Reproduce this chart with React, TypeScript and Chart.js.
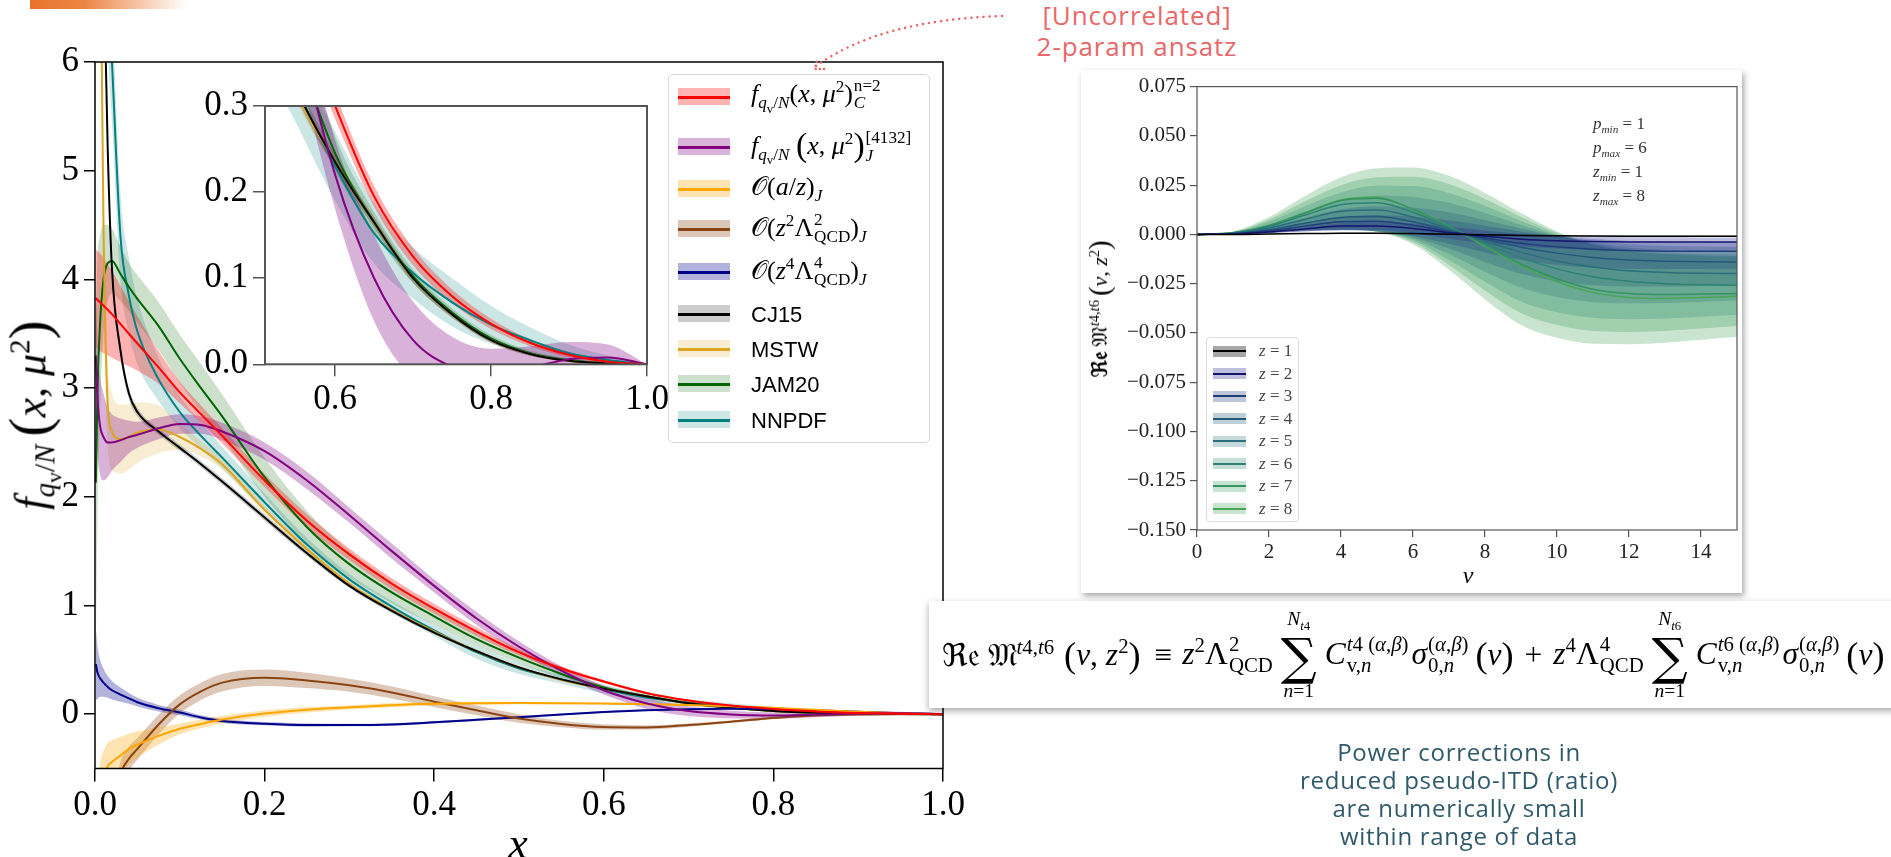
import React, { useEffect, useRef } from 'react';
import { Chart, registerables } from 'chart.js';
Chart.register(...registerables);

// ---------------- Main PDF panel data (x grid shared) ----------------
const xGrid = [0.001, 0.003, 0.006, 0.01, 0.015, 0.02, 0.03, 0.04, 0.05, 0.075, 0.1, 0.125, 0.15, 0.2, 0.25, 0.3, 0.35, 0.4, 0.45, 0.5, 0.55, 0.6, 0.65, 0.7, 0.75, 0.8, 0.85, 0.9, 0.95, 1.0];

const fC = [3.83, 3.81, 3.79, 3.76, 3.72, 3.68, 3.59, 3.5, 3.41, 3.19, 2.96, 2.76, 2.56, 2.15, 1.78, 1.47, 1.2, 0.97, 0.76, 0.57, 0.42, 0.3, 0.195, 0.125, 0.079, 0.047, 0.025, 0.011, 0.003, 0];
const fCErr = [0.45, 0.45, 0.45, 0.44, 0.42, 0.4, 0.35, 0.3, 0.25, 0.15, 0.1, 0.08, 0.07, 0.06, 0.06, 0.055, 0.05, 0.045, 0.04, 0.03, 0.02, 0.015, 0.012, 0.01, 0.008, 0.006, 0.004, 0.003, 0.001, 0];

const fJ = [3.3, 2.9, 2.65, 2.55, 2.5, 2.5, 2.52, 2.55, 2.57, 2.63, 2.67, 2.66, 2.6, 2.42, 2.15, 1.83, 1.5, 1.18, 0.88, 0.62, 0.4, 0.22, 0.1, 0.028, -0.003, -0.012, -0.004, 0.006, 0.008, 0];
const fJErr = [0.6, 0.5, 0.45, 0.4, 0.32, 0.26, 0.2, 0.15, 0.12, 0.1, 0.09, 0.08, 0.08, 0.08, 0.08, 0.07, 0.07, 0.06, 0.06, 0.05, 0.04, 0.04, 0.05, 0.045, 0.035, 0.03, 0.025, 0.02, 0.015, 0];

const aOverZ = [-1.5, -1.1, -0.8, -0.62, -0.48, -0.44, -0.38, -0.32, -0.28, -0.2, -0.135, -0.09, -0.05, 0.005, 0.04, 0.063, 0.083, 0.095, 0.1, 0.102, 0.1, 0.097, 0.092, 0.085, 0.073, 0.058, 0.04, 0.022, 0.008, 0];
const aOverZErr = [0.6, 0.45, 0.35, 0.28, 0.22, 0.2, 0.17, 0.14, 0.12, 0.08, 0.05, 0.04, 0.035, 0.03, 0.025, 0.02, 0.02, 0.015, 0.015, 0.012, 0.01, 0.01, 0.008, 0.007, 0.006, 0.005, 0.004, 0.003, 0.002, 0];

const z2Lam2 = [-4, -3.4, -2.7, -2.0, -1.4, -1.0, -0.56, -0.41, -0.32, -0.095, 0.09, 0.21, 0.29, 0.335, 0.31, 0.265, 0.2, 0.115, 0.035, -0.04, -0.09, -0.118, -0.122, -0.1, -0.07, -0.035, -0.013, -0.004, -0.001, 0];
const z2Lam2Err = [0.3, 0.25, 0.2, 0.18, 0.15, 0.13, 0.12, 0.11, 0.1, 0.09, 0.085, 0.08, 0.08, 0.075, 0.07, 0.06, 0.055, 0.05, 0.045, 0.04, 0.03, 0.025, 0.02, 0.015, 0.012, 0.01, 0.006, 0.003, 0.001, 0];

const z4Lam4 = [0.46, 0.38, 0.33, 0.29, 0.25, 0.22, 0.18, 0.145, 0.11, 0.055, 0.015, -0.03, -0.062, -0.088, -0.1, -0.1, -0.095, -0.075, -0.052, -0.028, -0.003, 0.02, 0.036, 0.046, 0.049, 0.045, 0.035, 0.022, 0.009, 0];
const z4Lam4Err = [0.33, 0.24, 0.17, 0.13, 0.1, 0.085, 0.065, 0.05, 0.04, 0.03, 0.025, 0.02, 0.02, 0.015, 0.015, 0.012, 0.012, 0.01, 0.01, 0.01, 0.008, 0.008, 0.008, 0.007, 0.006, 0.005, 0.004, 0.003, 0.002, 0];

const cj15 = [15, 12, 9, 7.0, 5.2, 4.1, 3.35, 2.95, 2.78, 2.6, 2.45, 2.3, 2.14, 1.81, 1.48, 1.18, 0.95, 0.75, 0.58, 0.43, 0.32, 0.235, 0.165, 0.1, 0.058, 0.028, 0.012, 0.004, 0.001, 0];
const cj15Err = [0.5, 0.3, 0.2, 0.15, 0.1, 0.08, 0.06, 0.05, 0.04, 0.03, 0.03, 0.03, 0.03, 0.03, 0.025, 0.02, 0.02, 0.015, 0.015, 0.01, 0.01, 0.008, 0.006, 0.005, 0.004, 0.003, 0.002, 0.001, 0, 0];

const mstw = [20, 12, 7.5, 4.5, 2.85, 2.6, 2.53, 2.55, 2.59, 2.62, 2.55, 2.44, 2.3, 1.88, 1.52, 1.2, 0.96, 0.76, 0.58, 0.43, 0.315, 0.235, 0.165, 0.1, 0.058, 0.028, 0.012, 0.004, 0.001, 0];
const mstwErr = [1.0, 0.8, 0.6, 0.5, 0.4, 0.35, 0.32, 0.3, 0.28, 0.22, 0.12, 0.07, 0.05, 0.04, 0.03, 0.025, 0.02, 0.02, 0.015, 0.012, 0.01, 0.008, 0.006, 0.005, 0.004, 0.003, 0.002, 0.001, 0, 0];

const jam20 = [2.13, 3.0, 3.6, 4.0, 4.15, 4.17, 4.05, 3.93, 3.82, 3.57, 3.27, 3.0, 2.74, 2.18, 1.72, 1.38, 1.12, 0.9, 0.69, 0.52, 0.37, 0.245, 0.165, 0.102, 0.06, 0.03, 0.013, 0.005, 0.001, 0];
const jam20Err = [1.5, 1.2, 0.8, 0.5, 0.35, 0.3, 0.25, 0.22, 0.22, 0.22, 0.22, 0.22, 0.2, 0.18, 0.15, 0.12, 0.1, 0.08, 0.06, 0.05, 0.04, 0.02, 0.012, 0.008, 0.005, 0.004, 0.003, 0.002, 0.001, 0];

const nnpdf = [18, 13, 10, 8.0, 6.8, 6.0, 4.4, 3.85, 3.52, 3.08, 2.78, 2.56, 2.36, 1.95, 1.56, 1.24, 0.99, 0.77, 0.57, 0.42, 0.32, 0.23, 0.152, 0.106, 0.072, 0.046, 0.028, 0.013, 0.005, 0];
const nnpdfErr = [3, 2, 1.5, 1.0, 0.7, 0.55, 0.4, 0.35, 0.3, 0.2, 0.15, 0.12, 0.1, 0.08, 0.06, 0.05, 0.05, 0.05, 0.06, 0.05, 0.04, 0.04, 0.035, 0.03, 0.028, 0.022, 0.015, 0.01, 0.005, 0];

const MAIN_X_TICKS = [0, 0.2, 0.4, 0.6, 0.8, 1.0];
const MAIN_Y_TICKS = [0, 1, 2, 3, 4, 5, 6];
const INSET_X_TICKS = [0.6, 0.8, 1.0];
const INSET_Y_TICKS = [0, 0.1, 0.2, 0.3];
const INSET_SERIES = [0, 1, 5, 6, 7, 8];

// ---------------- Power-correction panel data ----------------
const nuGrid = [0, 1, 2, 3, 4, 5, 6, 7, 8, 9, 10, 11, 12, 13, 14, 15];
const zLabels = ['1', '2', '3', '4', '5', '6', '7', '8'];
const mLine = [
  [0, 0, 0.0002, 0.0004, 0.0006, 0.0006, 0.0004, 0.0001, -0.0002, -0.0005, -0.0007, -0.0008, -0.0009, -0.001, -0.001, -0.001],
  [0, 0.0002, 0.0012, 0.0028, 0.0042, 0.0043, 0.003, 0.0009, -0.001, -0.0024, -0.0032, -0.0036, -0.0038, -0.0039, -0.0039, -0.0039],
  [0, 0.0003, 0.0018, 0.0042, 0.0064, 0.0067, 0.0047, 0.0014, -0.0018, -0.0045, -0.0063, -0.0075, -0.0082, -0.0085, -0.0086, -0.0086],
  [0, 0.0004, 0.0024, 0.0057, 0.0086, 0.0091, 0.0064, 0.002, -0.0025, -0.0065, -0.0095, -0.0117, -0.013, -0.0136, -0.0139, -0.014],
  [0, 0.0006, 0.0032, 0.0076, 0.0117, 0.0124, 0.0088, 0.0028, -0.0035, -0.009, -0.0135, -0.0165, -0.0185, -0.0193, -0.0197, -0.0199],
  [0, 0.0007, 0.004, 0.0098, 0.015, 0.016, 0.0112, 0.0035, -0.0045, -0.0118, -0.0175, -0.0215, -0.0238, -0.025, -0.0255, -0.0258],
  [0, 0.0008, 0.0044, 0.0108, 0.0172, 0.0183, 0.0128, 0.004, -0.0055, -0.015, -0.0225, -0.0278, -0.03, -0.0305, -0.0303, -0.03],
  [0, 0.0008, 0.0045, 0.011, 0.0175, 0.0188, 0.0125, 0.004, -0.006, -0.016, -0.024, -0.0295, -0.032, -0.0325, -0.032, -0.0314],
];
const mUp = [
  [0, 0.0001, 0.0003, 0.0006, 0.0009, 0.0009, 0.0007, 0.0004, 0.0001, -0.0002, -0.0004, -0.0005, -0.0006, -0.0006, -0.0006, -0.0006],
  [0, 0.0003, 0.0017, 0.0037, 0.0057, 0.0062, 0.0055, 0.004, 0.002, 0.0003, -0.0008, -0.0012, -0.0014, -0.0015, -0.0016, -0.0016],
  [0, 0.0005, 0.0027, 0.0058, 0.0088, 0.0098, 0.009, 0.0072, 0.0044, 0.0015, -0.0008, -0.0023, -0.0032, -0.0037, -0.0039, -0.004],
  [0, 0.0007, 0.0039, 0.0085, 0.0127, 0.0143, 0.0136, 0.0112, 0.0073, 0.003, -0.0008, -0.0033, -0.005, -0.0058, -0.0062, -0.0064],
  [0, 0.0009, 0.0052, 0.0115, 0.0172, 0.0196, 0.019, 0.016, 0.0108, 0.0048, -0.0005, -0.0042, -0.0066, -0.0078, -0.0084, -0.0087],
  [0, 0.0011, 0.0065, 0.0143, 0.0213, 0.0247, 0.0245, 0.021, 0.0145, 0.0068, 0, -0.0048, -0.0078, -0.0093, -0.01, -0.0103],
  [0, 0.0013, 0.0076, 0.0168, 0.025, 0.029, 0.0293, 0.0256, 0.018, 0.009, 0.0008, -0.005, -0.0085, -0.01, -0.0107, -0.011],
  [0, 0.0015, 0.0088, 0.0195, 0.029, 0.0336, 0.034, 0.0297, 0.021, 0.0108, 0.0015, -0.005, -0.0085, -0.01, -0.0108, -0.0112],
];
const mLo = [
  [0, 0, 0.0001, 0.0002, 0.0003, 0.0003, 0.0001, -0.0002, -0.0005, -0.0008, -0.001, -0.0011, -0.0012, -0.0013, -0.0013, -0.0013],
  [0, 0.0001, 0.0006, 0.0015, 0.0022, 0.0022, 0.0005, -0.0022, -0.0045, -0.0062, -0.0072, -0.0078, -0.0081, -0.0082, -0.0083, -0.0083],
  [0, 0.0001, 0.0007, 0.0016, 0.002, 0.0016, -0.0008, -0.0048, -0.0092, -0.013, -0.0155, -0.0168, -0.0174, -0.0175, -0.0175, -0.0174],
  [0, 0.0001, 0.0008, 0.0018, 0.0022, 0.0016, -0.0015, -0.0072, -0.014, -0.02, -0.0238, -0.0258, -0.0265, -0.0265, -0.0262, -0.0258],
  [0, 0.0002, 0.0009, 0.002, 0.0024, 0.0016, -0.0022, -0.01, -0.019, -0.027, -0.0318, -0.0343, -0.035, -0.0348, -0.0342, -0.0335],
  [0, 0.0002, 0.001, 0.0022, 0.0025, 0.0015, -0.003, -0.013, -0.024, -0.034, -0.0395, -0.0423, -0.043, -0.0427, -0.0418, -0.0408],
  [0, 0.0002, 0.001, 0.0022, 0.0025, 0.0015, -0.004, -0.0155, -0.0285, -0.04, -0.046, -0.049, -0.0495, -0.049, -0.0478, -0.0465],
  [0, 0.0002, 0.001, 0.002, 0.0022, 0.0012, -0.005, -0.018, -0.033, -0.046, -0.0525, -0.0555, -0.0557, -0.055, -0.0535, -0.052],
];
const NU_TICKS = [0, 2, 4, 6, 8, 10, 12, 14];
const M_TICKS = [-0.15, -0.125, -0.1, -0.075, -0.05, -0.025, 0, 0.025, 0.05, 0.075];

// ---------------- styles ----------------
const SERIF = "'Liberation Serif', 'DejaVu Serif', serif";
const MATH = "'Liberation Serif', 'DejaVu Serif', 'DejaVu Sans', 'Noto Sans', serif";
const SANS = "'Liberation Sans', 'DejaVu Sans', sans-serif";
const SLIDE = "'Open Sans', 'Lato', sans-serif";

const pdfSeries = [
  { y: fC, err: fCErr, color: '#ff0000', band: 'rgba(255,0,0,0.3)' },
  { y: fJ, err: fJErr, color: '#800080', band: 'rgba(128,0,128,0.3)' },
  { y: aOverZ, err: aOverZErr, color: '#ffa500', band: 'rgba(255,165,0,0.3)' },
  { y: z2Lam2, err: z2Lam2Err, color: '#8b4513', band: 'rgba(139,69,19,0.3)' },
  { y: z4Lam4, err: z4Lam4Err, color: '#00008b', band: 'rgba(0,0,139,0.3)' },
  { y: cj15, err: cj15Err, color: '#000000', band: 'rgba(0,0,0,0.2)' },
  { y: mstw, err: mstwErr, color: '#daa520', band: 'rgba(218,165,32,0.2)' },
  { y: jam20, err: jam20Err, color: '#006400', band: 'rgba(0,100,0,0.2)' },
  { y: nnpdf, err: nnpdfErr, color: '#008080', band: 'rgba(0,128,128,0.2)' },
];

const zColors = ['#000000', '#15156e', '#1f3f78', '#24587a', '#2c6f7c', '#2d8274', '#349460', '#4aa657'];
const zBands = ['rgba(0,0,0,0.35)', 'rgba(40,40,150,0.3)', 'rgba(40,70,130,0.3)', 'rgba(40,95,125,0.3)', 'rgba(45,120,125,0.28)', 'rgba(45,140,115,0.28)', 'rgba(55,155,95,0.28)', 'rgba(80,170,95,0.3)'];

function pts(xs: number[], ys: number[]) {
  return xs.map((x, i) => ({ x, y: ys[i] }));
}

function buildDatasets(xs: number[], series: { line: number[]; lo: number[]; hi: number[]; color: string; band: string }[], lw: number) {
  const bands: any[] = [];
  const lines: any[] = [];
  series.forEach((s) => {
    bands.push({ data: pts(xs, s.hi), borderWidth: 0, borderColor: 'rgba(0,0,0,0)', pointRadius: 0, fill: false, order: 2, cubicInterpolationMode: 'monotone' });
    bands.push({ data: pts(xs, s.lo), borderWidth: 0, borderColor: 'rgba(0,0,0,0)', backgroundColor: s.band, pointRadius: 0, fill: '-1', order: 2, cubicInterpolationMode: 'monotone' });
    lines.push({ data: pts(xs, s.line), borderColor: s.color, borderWidth: lw, pointRadius: 0, fill: false, order: 1, cubicInterpolationMode: 'monotone' });
  });
  return [...bands, ...lines];
}

function pdfDatasets(lw: number, which?: number[]) {
  const chosen = which ? which.map((i) => pdfSeries[i]) : pdfSeries;
  return buildDatasets(
    xGrid,
    chosen.map((s) => ({ line: s.y, lo: s.y.map((v, i) => v - s.err[i]), hi: s.y.map((v, i) => v + s.err[i]), color: s.color, band: s.band })),
    lw
  );
}

function framePlugin(color: string, width: number, bg?: string) {
  return {
    id: 'frame',
    beforeDraw(chart: any) {
      if (!bg) return;
      const { ctx, chartArea: a } = chart;
      ctx.save();
      ctx.fillStyle = bg;
      ctx.fillRect(a.left, a.top, a.right - a.left, a.bottom - a.top);
      ctx.restore();
    },
    afterDraw(chart: any) {
      const { ctx, chartArea: a } = chart;
      ctx.save();
      ctx.strokeStyle = color;
      ctx.lineWidth = width;
      ctx.strokeRect(a.left, a.top, a.right - a.left, a.bottom - a.top);
      ctx.restore();
    },
  };
}

function axis(o: any) {
  return {
    type: 'linear',
    min: o.min,
    max: o.max,
    afterBuildTicks: (s: any) => { s.ticks = o.ticks.map((v: number) => ({ value: v })); },
    afterFit: (s: any) => { if (o.width !== undefined) s.width = o.width; if (o.height !== undefined) s.height = o.height; },
    border: { display: false },
    grid: { display: true, drawOnChartArea: false, drawTicks: true, tickLength: o.tickLen, color: o.tickColor, lineWidth: o.tickWidth ?? 1.5 },
    ticks: { autoSkip: false, maxRotation: 0, padding: o.pad, color: o.labelColor ?? '#000', font: { family: SERIF, size: o.font }, callback: o.fmt },
  };
}

function ChartCanvas({ width, height, style, config }: any) {
  const ref = useRef<HTMLCanvasElement>(null);
  useEffect(() => {
    const chart = new Chart(ref.current as HTMLCanvasElement, config());
    return () => chart.destroy();
  }, []);
  return <canvas ref={ref} width={width} height={height} style={{ position: 'absolute', ...style }} />;
}

const baseOpts = {
  responsive: false,
  animation: false,
  devicePixelRatio: 1,
  events: [],
  plugins: { legend: { display: false }, tooltip: { enabled: false } },
};

function mainConfig() {
  return {
    type: 'line',
    data: { datasets: pdfDatasets(2) },
    options: {
      ...baseOpts,
      layout: { padding: { top: 62, right: 47, left: 0, bottom: 0 } },
      scales: {
        x: axis({ min: 0, max: 1, ticks: MAIN_X_TICKS, height: 88.5, tickLen: 13, tickColor: '#000', pad: 3, font: 35, fmt: (v: any) => Number(v).toFixed(1) }),
        y: axis({ min: -0.5, max: 6, ticks: MAIN_Y_TICKS, width: 95, tickLen: 11, tickColor: '#000', pad: 5, font: 35, fmt: (v: any) => String(v) }),
      },
    },
    plugins: [framePlugin('#000', 1.5)],
  };
}

function insetConfig() {
  return {
    type: 'line',
    data: { datasets: pdfDatasets(2, INSET_SERIES) },
    options: {
      ...baseOpts,
      layout: { padding: { top: 9, right: 38, left: 0, bottom: 0 } },
      scales: {
        x: axis({ min: 0.51, max: 1.0, ticks: INSET_X_TICKS, height: 55.7, tickLen: 12, tickColor: '#555', pad: 3, font: 35, fmt: (v: any) => Number(v).toFixed(1) }),
        y: axis({ min: 0, max: 0.3, ticks: INSET_Y_TICKS, width: 80, tickLen: 12, tickColor: '#555', pad: 5, font: 35, fmt: (v: any) => Number(v).toFixed(1) }),
      },
    },
    plugins: [framePlugin('#555', 2, '#fff')],
  };
}

function rightConfig() {
  const series = mLine.map((line, i) => ({ line, lo: mLo[i], hi: mUp[i], color: zColors[i], band: zBands[i] }));
  return {
    type: 'line',
    data: { datasets: buildDatasets(nuGrid, series, 1.5) },
    options: {
      ...baseOpts,
      layout: { padding: { top: 14.3, right: 5, left: 0, bottom: 0 } },
      scales: {
        x: axis({ min: 0, max: 15, ticks: NU_TICKS, height: 63, tickLen: 7, tickColor: '#555', tickWidth: 1.2, pad: 3, font: 21, labelColor: '#222', fmt: (v: any) => String(v) }),
        y: axis({ min: -0.15, max: 0.075, ticks: M_TICKS, width: 116, tickLen: 7, tickColor: '#555', tickWidth: 1.2, pad: 4, font: 21, labelColor: '#222', fmt: (v: any) => (Number(v) < 0 ? '\u2212' : '') + Math.abs(Number(v)).toFixed(3) }),
      },
    },
    plugins: [framePlugin('#555', 1.2)],
  };
}

// ---------------- math helpers ----------------
const sup = { fontSize: '0.66em' };
const sub = { fontSize: '0.66em' };
function SupSub({ top, bot }: any) {
  return (
    <span style={{ display: 'inline-flex', flexDirection: 'column', verticalAlign: '0.62em', fontSize: '0.66em', lineHeight: 1.0, marginLeft: '0.05em' }}>
      <span>{top}</span>
      <span>{bot}</span>
    </span>
  );
}
function Big({ children, s = '1.3em' }: any) {
  return <span style={{ fontSize: s, verticalAlign: '-0.06em' }}>{children}</span>;
}
function BigSum({ top, bot }: any) {
  return (
    <span style={{ display: 'inline-flex', flexDirection: 'column', alignItems: 'center', lineHeight: 1, margin: '0 8px' }}>
      <span style={{ fontSize: '0.62em' }}>{top}</span>
      <span style={{ fontSize: '1.6em', lineHeight: 0.95, fontFamily: "'DejaVu Serif', serif" }}>∑</span>
      <span style={{ fontSize: '0.62em' }}>{bot}</span>
    </span>
  );
}
const fq = (
  <>
    <i>f</i>
    <sub style={sub}>
      <i>q</i>
      <sub style={{ fontSize: '0.75em' }}>v</sub>/<i>N</i>
    </sub>
  </>
);

const legendItems = [
  { idx: 0, y: 22, label: <span style={{ fontFamily: MATH }}>{fq}(<i>x</i>, <i>μ</i><sup style={sup}>2</sup>)<SupSub top="n=2" bot={<i>C</i>} /></span> },
  { idx: 1, y: 72, label: <span style={{ fontFamily: MATH }}>{fq} <Big>(</Big><i>x</i>, <i>μ</i><sup style={sup}>2</sup><Big>)</Big><SupSub top="[4132]" bot={<i>J</i>} /></span> },
  { idx: 2, y: 114, label: <span style={{ fontFamily: MATH }}>𝒪(<i>a</i>/<i>z</i>)<sub style={sub}><i>J</i></sub></span> },
  { idx: 3, y: 154, label: <span style={{ fontFamily: MATH }}>𝒪(<i>z</i><sup style={sup}>2</sup>Λ<SupSub top="2" bot="QCD" />)<sub style={sub}><i>J</i></sub></span> },
  { idx: 4, y: 197, label: <span style={{ fontFamily: MATH }}>𝒪(<i>z</i><sup style={sup}>4</sup>Λ<SupSub top="4" bot="QCD" />)<sub style={sub}><i>J</i></sub></span> },
  { idx: 5, y: 239, label: <span style={{ fontFamily: SANS, fontSize: 22 }}>CJ15</span> },
  { idx: 6, y: 274, label: <span style={{ fontFamily: SANS, fontSize: 22 }}>MSTW</span> },
  { idx: 7, y: 309, label: <span style={{ fontFamily: SANS, fontSize: 22 }}>JAM20</span> },
  { idx: 8, y: 345, label: <span style={{ fontFamily: SANS, fontSize: 22 }}>NNPDF</span> },
];

function MainLegend() {
  return (
    <div style={{ position: 'absolute', left: 668, top: 74, width: 262, height: 369, border: '1px solid #d6d6d6', borderRadius: 5, background: 'rgba(255,255,255,0.9)', boxSizing: 'border-box' }}>
      {legendItems.map((it) => {
        const s = pdfSeries[it.idx];
        return (
          <div key={it.idx}>
            <div style={{ position: 'absolute', left: 9, top: it.y - 9, width: 52, height: 17, background: s.band }} />
            <div style={{ position: 'absolute', left: 9, top: it.y - 1.5, width: 52, height: 3, background: s.color }} />
            <div style={{ position: 'absolute', left: 82, top: it.y, transform: 'translateY(-50%)', fontSize: 26, whiteSpace: 'nowrap', lineHeight: 1.2 }}>{it.label}</div>
          </div>
        );
      })}
    </div>
  );
}

function RightLegend() {
  return (
    <div style={{ position: 'absolute', left: 1206, top: 337, width: 93, height: 185, border: '1px solid #dcdcdc', borderRadius: 4, background: 'rgba(255,255,255,0.9)', boxSizing: 'border-box' }}>
      {zLabels.map((z, i) => {
        const y = 13 + i * 22.5;
        return (
          <div key={z}>
            <div style={{ position: 'absolute', left: 6, top: y - 5.5, width: 33, height: 11, background: zBands[i] }} />
            <div style={{ position: 'absolute', left: 6, top: y - 1, width: 33, height: 2, background: zColors[i] }} />
            <div style={{ position: 'absolute', left: 52, top: y, transform: 'translateY(-50%)', fontFamily: MATH, fontSize: 17, color: '#444', whiteSpace: 'nowrap' }}>
              <i>z</i> = {z}
            </div>
          </div>
        );
      })}
    </div>
  );
}

function Equation() {
  const C = (t: string) => (
    <span>
      <i>C</i>
      <SupSub top={<><i>t</i>{t}&nbsp;(<i>α</i>,<i>β</i>)</>} bot={<>v,<i>n</i></>} />
    </span>
  );
  const sig = (
    <span style={{ marginLeft: 3 }}>
      <i>σ</i>
      <SupSub top={<>(<i>α</i>,<i>β</i>)</>} bot={<>0,<i>n</i></>} />
    </span>
  );
  const nu = (
    <span style={{ marginLeft: 7 }}>
      <Big s="1.15em">(</Big><i>ν</i><Big s="1.15em">)</Big>
    </span>
  );
  return (
    <div style={{ position: 'absolute', left: 929, top: 601, width: 975, height: 107, background: '#fff', boxShadow: '0 3px 7px rgba(0,0,0,0.35)' }}>
      <div style={{ position: 'absolute', left: 13, top: 0, height: 107, display: 'flex', alignItems: 'center', fontFamily: MATH, fontSize: 31.5, whiteSpace: 'nowrap', color: '#000' }}>
        <span>ℜ𝔢&nbsp;𝔐<sup style={sup}><i>t</i>4,<i>t</i>6</sup></span>
        <span style={{ margin: '0 4px 0 10px' }}><Big s="1.15em">(</Big><i>ν</i>, <i>z</i><sup style={sup}>2</sup><Big s="1.15em">)</Big></span>
        <span style={{ margin: '0 10px' }}>≡</span>
        <span><i>z</i><sup style={sup}>2</sup>Λ<SupSub top="2" bot="QCD" /></span>
        <BigSum top={<><i>N</i><sub style={sub}><i>t</i>4</sub></>} bot={<><i>n</i>=1</>} />
        {C('4')}
        {sig}
        {nu}
        <span style={{ margin: '0 11px' }}>+</span>
        <span><i>z</i><sup style={sup}>4</sup>Λ<SupSub top="4" bot="QCD" /></span>
        <BigSum top={<><i>N</i><sub style={sub}><i>t</i>6</sub></>} bot={<><i>n</i>=1</>} />
        {C('6')}
        {sig}
        {nu}
      </div>
    </div>
  );
}

export default function App() {
  return (
    <div style={{ position: 'relative', width: 1891, height: 857, overflow: 'hidden', background: '#fff' }}>
      <style>{'body{margin:0}'}</style>
      <div style={{ position: 'absolute', left: 30, top: 0, width: 157, height: 9, background: 'linear-gradient(to right, #e8732a 0%, #ec8646 35%, rgba(255,255,255,0) 100%)' }} />

      <ChartCanvas width={990} height={857} style={{ left: 0, top: 0 }} config={mainConfig} />
      <ChartCanvas width={500} height={340} style={{ left: 185, top: 80 }} config={insetConfig} />
      <MainLegend />

      <div style={{ position: 'absolute', left: 32, top: 415, transform: 'translate(-50%,-50%) rotate(-90deg)', fontFamily: MATH, fontSize: 44, whiteSpace: 'nowrap' }}>
        {fq}
        <span style={{ marginLeft: 8 }}><Big>(</Big><i>x</i>, <i>μ</i><sup style={sup}>2</sup><Big>)</Big></span>
      </div>
      <div style={{ position: 'absolute', left: 518, top: 843, transform: 'translate(-50%,-50%)', fontFamily: MATH, fontSize: 44, fontStyle: 'italic' }}>x</div>

      {/* right panel */}
      <div style={{ position: 'absolute', left: 1081, top: 70, width: 661, height: 523, background: '#fff', boxShadow: '2px 3px 6px rgba(0,0,0,0.35)' }}>
        <ChartCanvas width={661} height={523} style={{ left: 0, top: 0 }} config={rightConfig} />
      </div>
      <RightLegend />
      <div style={{ position: 'absolute', left: 1593, top: 115, fontFamily: MATH, fontSize: 17, color: '#333', lineHeight: '17.7px' }}>
        <div><i>p</i><sub style={sub}><i>min</i></sub> = 1</div>
        <div><i>p</i><sub style={sub}><i>max</i></sub> = 6</div>
        <div><i>z</i><sub style={sub}><i>min</i></sub> = 1</div>
        <div><i>z</i><sub style={sub}><i>max</i></sub> = 8</div>
      </div>
      <div style={{ position: 'absolute', left: 1100, top: 309, transform: 'translate(-50%,-50%) rotate(-90deg)', fontFamily: MATH, fontSize: 22, whiteSpace: 'nowrap' }}>
        <b>ℜ𝔢</b>&nbsp;𝔐<sup style={sup}><i>t</i>4,<i>t</i>6</sup>
        <span style={{ marginLeft: 4 }}><Big>(</Big><i>ν</i>, <i>z</i><sup style={sup}>2</sup><Big>)</Big></span>
      </div>
      <div style={{ position: 'absolute', left: 1468, top: 575, transform: 'translate(-50%,-50%)', fontFamily: MATH, fontSize: 24, fontStyle: 'italic' }}>ν</div>

      <Equation />

      {/* annotations */}
      <div style={{ position: 'absolute', left: 1137, top: 0, transform: 'translateX(-50%)', fontFamily: SLIDE, fontSize: 26, lineHeight: '31px', color: '#e8686a', textAlign: 'center', whiteSpace: 'nowrap', letterSpacing: 0.9 }}>
        <div>[Uncorrelated]</div>
        <div>2-param ansatz</div>
      </div>
      <svg width={1891} height={857} style={{ position: 'absolute', left: 0, top: 0, pointerEvents: 'none' }}>
        <path d="M 1002 16 Q 880 20 816 66" fill="none" stroke="#e8686a" strokeWidth={2.5} strokeDasharray="0.1 6" strokeLinecap="round" />
        <path d="M 824 69 L 815 69 L 817 60" fill="none" stroke="#e8686a" strokeWidth={2.5} strokeLinecap="round" strokeDasharray="0.1 4" />
      </svg>
      <div style={{ position: 'absolute', left: 1459, top: 738, transform: 'translateX(-50%)', fontFamily: SLIDE, fontSize: 24, lineHeight: '28px', color: '#2f5a6b', textAlign: 'center', whiteSpace: 'nowrap', letterSpacing: 0.7 }}>
        <div>Power corrections in</div>
        <div>reduced pseudo-ITD (ratio)</div>
        <div>are numerically small</div>
        <div>within range of data</div>
      </div>
    </div>
  );
}
